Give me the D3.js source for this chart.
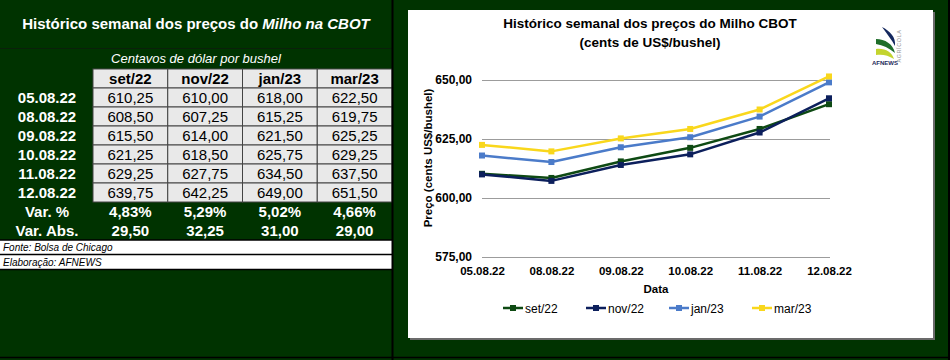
<!DOCTYPE html>
<html>
<head>
<meta charset="utf-8">
<title>Histórico semanal dos preços do Milho CBOT</title>
<style>
    body {
        margin: 0;
        background: #003300;
    }

    svg {
        display: block;
        font-family: Arial, "Liberation Sans", sans-serif;
    }
</style>
<script src="https://d3js.org/d3.v7.min.js"></script>
</head>
<body>
<svg id="chart" width="950" height="360"></svg>
<script>
    // dados (centavos de dólar por bushel)
    const dates = ["05.08.22", "08.08.22", "09.08.22", "10.08.22", "11.08.22", "12.08.22"];
    const contracts = ["set/22", "nov/22", "jan/23", "mar/23"];
    const set22 = [610.25, 608.50, 615.50, 621.25, 629.25, 639.75];
    const nov22 = [610.00, 607.25, 614.00, 618.50, 627.75, 642.25];
    const jan23 = [618.00, 615.25, 621.50, 625.75, 634.50, 649.00];
    const mar23 = [622.50, 619.75, 625.25, 629.25, 637.50, 651.50];
    const yTicks = [575, 600, 625, 650];
    const colors = ["#0e4a13", "#0c1f5c", "#4b7bc9", "#f9d71c"];

    const series = [set22, nov22, jan23, mar23];

    const pt = d3.formatLocale({decimal: ",", thousands: ".", grouping: [3], currency: ["", ""]});
    const f2 = pt.format(".2f");
    const fPct = pt.format(".2%");

    const green = "#003300";
    const svg = d3.select("#chart");

    svg.append("rect")
        .attr("width", 950).attr("height", 360)
        .attr("fill", green);

    // ---------- tabela à esquerda ----------
    const left = svg.append("g");

    left.append("text")
        .attr("x", 196).attr("y", 29)
        .attr("text-anchor", "middle")
        .attr("fill", "white")
        .style("font-size", "15px")
        .style("font-weight", "bold")
        .call(t => {
            t.append("tspan").text("Histórico semanal dos preços do ");
            t.append("tspan").style("font-style", "italic").text("Milho na CBOT");
        });

    left.append("line")
        .attr("x1", 0).attr("x2", 392).attr("y1", 48.5).attr("y2", 48.5)
        .attr("stroke", "#0b200b").attr("stroke-width", 1);

    left.append("text")
        .attr("x", 196).attr("y", 63)
        .attr("text-anchor", "middle")
        .attr("fill", "white")
        .style("font-size", "13px")
        .style("font-style", "italic")
        .text("Centavos de dólar por bushel");

    const colX = d3.scaleBand().domain(contracts).range([93, 392]);
    const rowKeys = ["head", ...dates, "pct", "abs"];
    const rowY = d3.scaleBand().domain(rowKeys).range([69, 240]);

    // células cinza (cabeçalho + valores)
    const grayRows = ["head", ...dates];
    grayRows.forEach((r, ri) => {
        left.selectAll(null)
            .data(contracts)
            .join("rect")
            .attr("x", d => colX(d))
            .attr("y", rowY(r))
            .attr("width", colX.bandwidth())
            .attr("height", rowY.bandwidth())
            .attr("fill", "#e9e9e9")
            .attr("stroke", "#444")
            .attr("stroke-width", 1);

        left.selectAll(null)
            .data(contracts)
            .join("text")
            .attr("x", d => colX(d) + colX.bandwidth() / 2)
            .attr("y", rowY(r) + rowY.bandwidth() / 2 + 5)
            .attr("text-anchor", "middle")
            .attr("fill", "black")
            .style("font-size", "15px")
            .style("font-weight", r === "head" ? "bold" : "normal")
            .text((d, ci) => r === "head" ? d : f2(series[ci][ri - 1]));
    });

    // rótulos de linha
    left.selectAll(null)
        .data(dates)
        .join("text")
        .attr("x", 47)
        .attr("y", d => rowY(d) + rowY.bandwidth() / 2 + 5)
        .attr("text-anchor", "middle")
        .attr("fill", "white")
        .style("font-size", "15px")
        .style("font-weight", "bold")
        .text(d => d);

    // variações
    const varRows = [
        {key: "pct", label: "Var. %", fn: s => fPct((s[s.length - 1] - s[0]) / s[0])},
        {key: "abs", label: "Var. Abs.", fn: s => f2(s[s.length - 1] - s[0])}
    ];
    varRows.forEach(v => {
        left.append("text")
            .attr("x", 47)
            .attr("y", rowY(v.key) + rowY.bandwidth() / 2 + 5)
            .attr("text-anchor", "middle")
            .attr("fill", "white")
            .style("font-size", "15px")
            .style("font-weight", "bold")
            .text(v.label);

        left.selectAll(null)
            .data(series)
            .join("text")
            .attr("x", (d, i) => colX(contracts[i]) + colX.bandwidth() / 2)
            .attr("y", rowY(v.key) + rowY.bandwidth() / 2 + 5)
            .attr("text-anchor", "middle")
            .attr("fill", "white")
            .style("font-size", "15px")
            .style("font-weight", "bold")
            .text(d => v.fn(d));
    });

    // rodapé
    const notes = ["Fonte: Bolsa de Chicago", "Elaboração: AFNEWS"];
    left.selectAll(null)
        .data(notes)
        .join("rect")
        .attr("x", 0)
        .attr("y", (d, i) => 240 + i * 15)
        .attr("width", 392)
        .attr("height", 14)
        .attr("fill", "white");
    left.selectAll(null)
        .data([240, 254.5, 269.5])
        .join("line")
        .attr("x1", 0).attr("x2", 392)
        .attr("y1", d => d).attr("y2", d => d)
        .attr("stroke", "black").attr("stroke-width", 1.5);
    left.selectAll(null)
        .data(notes)
        .join("text")
        .attr("x", 3)
        .attr("y", (d, i) => 251 + i * 15)
        .attr("fill", "black")
        .style("font-size", "10px")
        .style("font-style", "italic")
        .text(d => d);

    svg.append("line")
        .attr("x1", 392.5).attr("x2", 392.5).attr("y1", 0).attr("y2", 360)
        .attr("stroke", "black").attr("stroke-width", 2);
    svg.append("line")
        .attr("x1", 0).attr("x2", 950).attr("y1", 357.5).attr("y2", 357.5)
        .attr("stroke", "black").attr("stroke-width", 1.5);
    svg.append("line")
        .attr("x1", 949).attr("x2", 949).attr("y1", 0).attr("y2", 360)
        .attr("stroke", "black").attr("stroke-width", 2);

    // ---------- gráfico à direita ----------
    svg.append("rect")
        .attr("x", 410).attr("y", 12)
        .attr("width", 525).attr("height", 328)
        .attr("fill", "#6b6b6b");
    svg.append("rect")
        .attr("x", 408).attr("y", 10)
        .attr("width", 525).attr("height", 328)
        .attr("fill", "white");

    const chart = svg.append("g");

    chart.append("text")
        .attr("x", 650).attr("y", 28)
        .attr("text-anchor", "middle")
        .style("font-size", "13.5px")
        .style("font-weight", "bold")
        .text("Histórico semanal dos preços do Milho CBOT");
    chart.append("text")
        .attr("x", 650).attr("y", 47)
        .attr("text-anchor", "middle")
        .style("font-size", "13.5px")
        .style("font-weight", "bold")
        .text("(cents de US$/bushel)");

    const x = d3.scalePoint().domain(dates).range([482, 829]);
    const y = d3.scaleLinear().domain([575, 650]).range([257, 80]);

    const yAxis = chart.append("g")
        .attr("transform", "translate(482,0)")
        .call(d3.axisLeft(y).tickValues(yTicks).tickSize(-348).tickPadding(10).tickFormat(f2));
    yAxis.select(".domain").remove();
    yAxis.selectAll(".tick line").attr("stroke", "#9c9c9c").attr("stroke-width", 1.2);
    yAxis.selectAll(".tick text")
        .attr("fill", "black")
        .style("font-size", "12px")
        .style("font-weight", "bold")
        .style("font-family", "Arial, 'Liberation Sans', sans-serif");

    const xAxis = chart.append("g")
        .attr("transform", "translate(0,257)")
        .call(d3.axisBottom(x).tickSize(0).tickPadding(10));
    xAxis.select(".domain").remove();
    xAxis.selectAll(".tick text")
        .attr("fill", "black")
        .style("font-size", "11.5px")
        .style("font-weight", "bold")
        .style("font-family", "Arial, 'Liberation Sans', sans-serif");

    chart.append("text")
        .attr("x", 656).attr("y", 293)
        .attr("text-anchor", "middle")
        .style("font-size", "11.5px")
        .style("font-weight", "bold")
        .text("Data");

    chart.append("text")
        .attr("transform", "translate(432,158) rotate(-90)")
        .attr("text-anchor", "middle")
        .style("font-size", "11.5px")
        .style("font-weight", "bold")
        .text("Preço (cents US$/bushel)");

    const line = d3.line()
        .x((d, i) => x(dates[i]))
        .y(d => y(d));

    series.forEach((s, si) => {
        const g = chart.append("g");
        g.append("path")
            .attr("d", line(s))
            .attr("fill", "none")
            .attr("stroke", colors[si])
            .attr("stroke-width", 2.5)
            .attr("stroke-linejoin", "round");
        g.selectAll("rect")
            .data(s)
            .join("rect")
            .attr("x", (d, i) => x(dates[i]) - 3)
            .attr("y", d => y(d) - 3)
            .attr("width", 6)
            .attr("height", 6)
            .attr("fill", colors[si]);
    });

    // legenda
    const legend = chart.selectAll(".legend")
        .data(contracts)
        .join("g")
        .attr("class", "legend")
        .attr("transform", (d, i) => `translate(${503 + i * 83},308)`);
    legend.append("line")
        .attr("x1", 0).attr("x2", 20)
        .attr("stroke", (d, i) => colors[i])
        .attr("stroke-width", 2.5);
    legend.append("rect")
        .attr("x", 7).attr("y", -3)
        .attr("width", 6).attr("height", 6)
        .attr("fill", (d, i) => colors[i]);
    legend.append("text")
        .attr("x", 22).attr("y", 4.5)
        .style("font-size", "12px")
        .text(d => d);

    // logo AFNEWS
    const logo = chart.append("g");
    logo.append("path")
        .attr("d", "M882,27 C890,31 896,37 895,46 C892,40 887,34 882,27 Z")
        .attr("fill", "#15285e");
    logo.append("path")
        .attr("d", "M876,39 C885,39 893,44 895,53 C889,48 883,45 876,44 Z")
        .attr("fill", "#1f6e2a");
    logo.append("path")
        .attr("d", "M876,49 C885,48 892,52 894,59 C888,55 882,54 876,55 Z")
        .attr("fill", "#c4d42e");
    logo.append("text")
        .attr("x", 885).attr("y", 65)
        .attr("text-anchor", "middle")
        .attr("fill", "#1c2b5a")
        .style("font-size", "6px")
        .style("font-weight", "bold")
        .text("AFNEWS");
    logo.append("text")
        .attr("transform", "translate(901,46) rotate(-90)")
        .attr("text-anchor", "middle")
        .attr("fill", "#9a9a9a")
        .style("font-size", "5.5px")
        .style("letter-spacing", "0.6px")
        .text("AGRÍCOLA");
</script>
</body>
</html>
